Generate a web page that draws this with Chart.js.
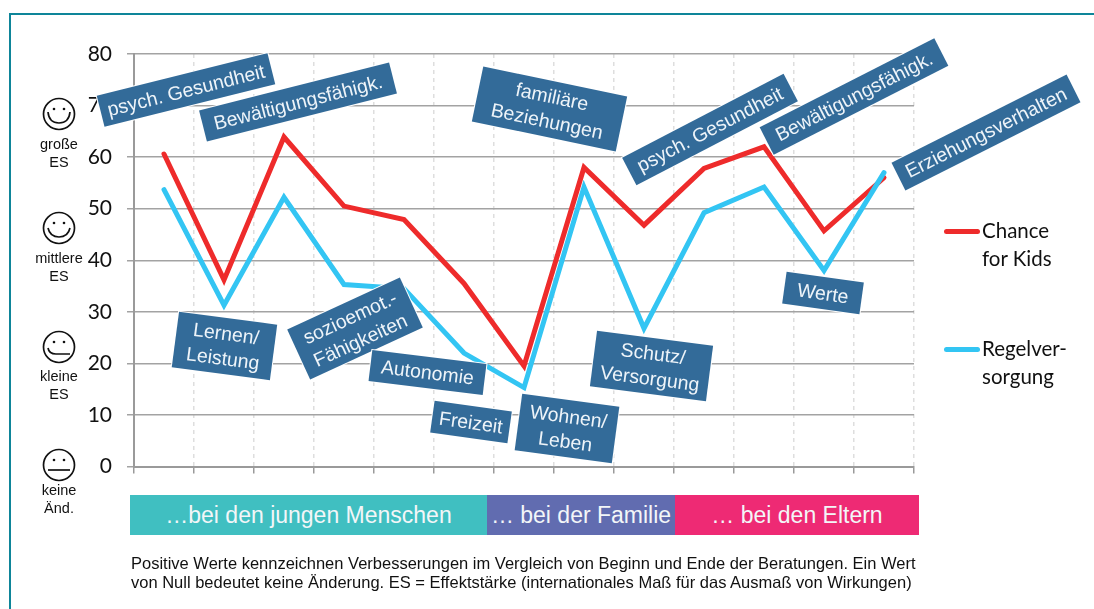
<!DOCTYPE html>
<html lang="de">
<head>
<meta charset="utf-8">
<title>Chance for Kids</title>
<script src="https://cdn.jsdelivr.net/npm/chart.js@4/dist/chart.umd.min.js"></script>
<style>
    html, body { margin: 0; padding: 0; background: #fff; }
    #page { position: relative; width: 1094px; height: 609px; overflow: hidden; font-family: "Liberation Sans", sans-serif; }
    #lineChart { position: absolute; left: 0; top: 0; }
    #frame { position: absolute; left: 9px; top: 13px; width: 1100px; height: 620px; border: 2.5px solid #0e8599; }
    .box { position: absolute; background: #336b99; color: #eef4f9; font-size: 19.5px; line-height: 25px; text-align: center;
           display: flex; align-items: center; justify-content: center; white-space: pre; box-shadow: 0 0 0 1px #fff; }
    .band { position: absolute; top: 495px; height: 40px; line-height: 41px; color: #f3f6f8; font-size: 23px; text-align: center; white-space: pre; }
    .note { position: absolute; left: 131px; font-size: 16.5px; line-height: 19px; color: #111; white-space: pre; }
    .es { position: absolute; width: 80px; text-align: center; font-size: 14.5px; line-height: 18px; color: #111; white-space: pre; }
    .smiley { position: absolute; }
    .legendLine { position: absolute; left: 944px; width: 36px; height: 4.5px; border-radius: 3px; }
    .legendText { position: absolute; left: 982px; font-family: Lato, sans-serif; font-size: 20.5px; line-height: 28px; color: #111; white-space: pre; }
</style>
</head>
<body>
<div id="page">
    <canvas id="lineChart" width="1094" height="609"></canvas>
    <div id="frame"></div>
</div>
<script>
    // Values
    const categories = ['psych. Gesundheit', 'Lernen/Leistung', 'Bewältigungsfähigk.', 'sozioemot.-Fähigkeiten', 'Autonomie', 'Freizeit',
        'Wohnen/Leben', 'familiäre Beziehungen', 'Schutz/Versorgung', 'psych. Gesundheit', 'Bewältigungsfähigk.', 'Werte', 'Erziehungsverhalten'];
    const chanceForKids = [60.6, 36.2, 63.9, 50.5, 47.9, 35.5, 19.5, 58, 46.8, 57.8, 62, 45.7, 56];
    const regelversorgung = [53.7, 31.3, 52.2, 35.3, 34.5, 22, 15.3, 54.2, 26.8, 49.2, 54.2, 38, 57];
    const yTicks = [0, 10, 20, 30, 40, 50, 60, 70, 80];

    const page = document.getElementById('page');

    function addDiv(className, text, css) {
        const el = document.createElement('div');
        el.className = className;
        el.textContent = text;
        Object.assign(el.style, css);
        page.appendChild(el);
        return el;
    }

    // The blue boxes: text, centre x, centre y, width, height, angle
    const boxes = [
        ['psych. Gesundheit', 186, 90, 176, 32, -14],
        ['Bewältigungsfähigk.', 298, 101.5, 196, 32, -14.2],
        ['familiäre\nBeziehungen', 549, 108.5, 147, 56, 11.8],
        ['psych. Gesundheit', 710, 129, 182, 31, -27.5],
        ['Bewältigungsfähigk.', 854, 96.5, 196, 31, -27],
        ['Erziehungsverhalten', 986, 132, 196, 31, -26.7],
        ['Lernen/\nLeistung', 224, 346, 99, 55.5, 7.5],
        ['sozioemot.-\nFähigkeiten', 355, 328, 124, 55, -24.7],
        ['Autonomie', 427.5, 372, 115, 31, 7],
        ['Freizeit', 471, 421.5, 78, 32, 8],
        ['Wohnen/\nLeben', 567, 428.5, 98, 57, 7.6],
        ['Schutz/\nVersorgung', 651, 366, 117, 56, 7.3],
        ['Werte', 823, 292.5, 78, 32, 8]
    ];
    boxes.forEach(b => {
        addDiv('box', b[0], {
            left: (b[1] - b[3] / 2) + 'px',
            top: (b[2] - b[4] / 2) + 'px',
            width: b[3] + 'px',
            height: b[4] + 'px',
            transform: 'rotate(' + b[5] + 'deg)'
        });
    });

    // Coloured bands below the axis
    addDiv('band', '…bei den jungen Menschen', { left: '130px', width: '357px', background: '#40bfc1' });
    addDiv('band', '… bei der Familie', { left: '487px', width: '188px', background: '#616cb0' });
    addDiv('band', '… bei den Eltern', { left: '675px', width: '244px', background: '#ee2a74' });

    // Footnote
    addDiv('note', 'Positive Werte kennzeichnen Verbesserungen im Vergleich von Beginn und Ende der Beratungen. Ein Wert', { top: '554px' });
    addDiv('note', 'von Null bedeutet keine Änderung. ES = Effektstärke (internationales Maß für das Ausmaß von Wirkungen)', { top: '573px' });

    // Smileys on the left, mouth gets flatter from top to bottom
    const smileys = [
        { y: 114, mouth: 'M-11 -2 Q-10 9 0 9 Q10 9 11 -2', text: 'große\nES', textTop: 135 },
        { y: 228, mouth: 'M-11 0 Q-9 9 0 9 Q9 9 11 0', text: 'mittlere\nES', textTop: 249 },
        { y: 347, mouth: 'M-11 1 Q-10 7 -3 7 L11 7', text: 'kleine\nES', textTop: 367 },
        { y: 465, mouth: 'M-11 5 L11 5', text: 'keine\nÄnd.', textTop: 481 }
    ];
    smileys.forEach(s => {
        const svg = document.createElementNS('http://www.w3.org/2000/svg', 'svg');
        svg.setAttribute('class', 'smiley');
        svg.setAttribute('width', 36);
        svg.setAttribute('height', 36);
        svg.setAttribute('viewBox', '-18 -18 36 36');
        svg.style.left = '41px';
        svg.style.top = (s.y - 18) + 'px';
        svg.innerHTML = '<circle r="15.5" fill="none" stroke="#111" stroke-width="1.7"/>' +
            '<circle cx="-5" cy="-5" r="1.3" fill="#111"/><circle cx="5" cy="-5" r="1.3" fill="#111"/>' +
            '<path d="' + s.mouth + '" fill="none" stroke="#111" stroke-width="1.7"/>';
        page.appendChild(svg);
        addDiv('es', s.text, { left: '19px', top: s.textTop + 'px' });
    });

    // Legend
    addDiv('legendLine', '', { top: '229px', background: '#ee2b2b' });
    addDiv('legendText', 'Chance\nfor Kids', { top: '216px' });
    addDiv('legendLine', '', { top: '347px', background: '#33c5f3' });
    addDiv('legendText', 'Regelver-\nsorgung', { top: '334px' });

    new Chart(document.getElementById('lineChart').getContext('2d'), {
        type: 'line',
        data: {
            labels: categories,
            datasets: [
                { label: 'Chance for Kids', data: chanceForKids, borderColor: '#ee2b2b', borderWidth: 5, borderCapStyle: 'round', pointRadius: 0, tension: 0, order: 1 },
                { label: 'Regelversorgung', data: regelversorgung, borderColor: '#33c5f3', borderWidth: 5, borderCapStyle: 'round', pointRadius: 0, tension: 0, order: 0 }
            ]
        },
        options: {
            responsive: false,
            animation: false,
            layout: { padding: { left: 0, right: 180, top: 54, bottom: 0 } },
            plugins: { legend: { display: false }, title: { display: false }, tooltip: { enabled: false } },
            scales: {
                x: {
                    offset: true,
                    afterFit: scale => { scale.height = 142.5; },
                    ticks: { display: false },
                    grid: { offset: true, color: '#dedede', lineWidth: 1.5, tickColor: '#9a9a9a', tickBorderDash: [], tickLength: 7, tickWidth: 1.5 },
                    border: { color: '#9a9a9a', width: 2, dash: [4, 4] }
                },
                y: {
                    min: 0,
                    max: 80,
                    afterFit: scale => { scale.width = 134; },
                    afterBuildTicks: scale => { scale.ticks = yTicks.map(v => ({ value: v })); },
                    ticks: { color: '#111', padding: 15, font: { family: 'Lato', size: 21 } },
                    grid: { color: '#a3a3a3', lineWidth: 1.5, tickLength: 7 },
                    border: { color: '#9a9a9a', width: 2 }
                }
            }
        }
    });
</script>
</body>
</html>
